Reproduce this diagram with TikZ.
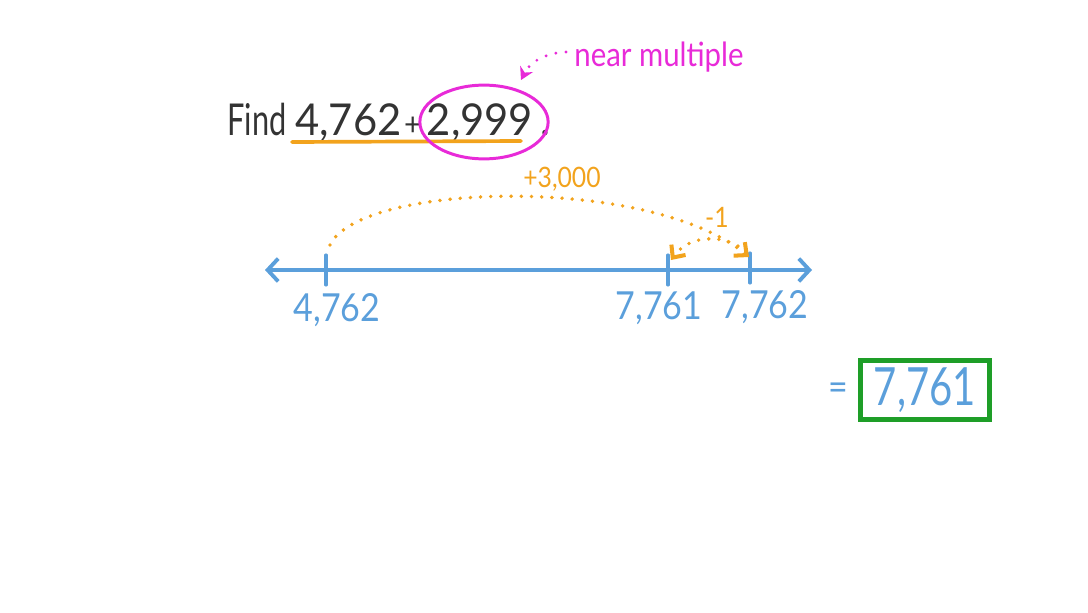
\documentclass[tikz,border=0pt]{standalone}
\usepackage{fontspec}
\setmainfont{Lato}[FakeStretch=0.88]
\newfontfamily\qfont{Lato}[FakeStretch=0.95]
\newfontfamily\ffont{Lato}[FakeStretch=0.7]
\newfontfamily\afont{Lato}[FakeStretch=0.76]
\usetikzlibrary{arrows.meta,shapes.geometric}
\definecolor{ink}{HTML}{333333}
\definecolor{orng}{HTML}{F2A31D}
\definecolor{mag}{HTML}{E82AD8}
\definecolor{blu}{HTML}{5B9FDB}
\definecolor{grn}{HTML}{1E9E28}
\tikzset{
  dotline/.style={line width=2.2pt, line cap=round, dash pattern=on 0pt off 5.8pt},
  numlab/.style={text=blu, font=\fontsize{22}{24}\selectfont, inner sep=0pt},
  tickmark/.style={draw=blu, line width=1.8pt, line cap=round},
  jumplab/.style={text=orng, font=\fontsize{16}{18}\selectfont, inner sep=0pt},
  otip/.style={-{Straight Barb[length=5.5pt,width=10pt,line width=2.3pt]}},
}
\begin{document}
\begin{tikzpicture}[x=0.02cm,y=-0.02cm]
\useasboundingbox (0,0) rectangle (1088,612);
% question
\node[anchor=base west, text=ink, font=\fontsize{25}{28}\qfont, inner sep=0pt] (q) at (227,135)
  {{\ffont Find}\hspace{5pt}4,762\hspace{1.5pt}{\fontsize{18}{20}\selectfont +}\hspace{3pt}2,999\hspace{4pt}.};
\coordinate (u1) at (292,142);
\coordinate (u2) at (521,141);
\draw[orng, line width=2.1pt, line cap=round] (u1) -- (u2);
\node[draw=mag, line width=1.7pt, ellipse, minimum width=73pt, minimum height=42pt, inner sep=0pt] (circ) at (484,122) {};
\node[text=mag, font=\fontsize{19}{21}\selectfont, inner sep=0pt] (nm) at (659,57) {near multiple};
\coordinate (na) at (566,52);
\coordinate (nb) at (521,80);
\draw[mag, dotline, line width=1.8pt, -{Stealth[length=7pt,width=8pt]}] (na) .. controls (545,53) and (530,62) .. (nb);
% number line
\coordinate (L) at (265,270);
\coordinate (R) at (812,270);
\draw[blu, line width=2.2pt, line cap=round,
  {Straight Barb[length=6pt,width=13pt,line width=2.2pt]}-{Straight Barb[length=6pt,width=13pt,line width=2.2pt]}] (L) -- (R);
\coordinate (t1) at (326,270);
\coordinate (t2) at (668,270);
\coordinate (t3) at (750,269);
\draw[tickmark] (t1) ++(0,-15) -- ++(0,30);
\draw[tickmark] (t2) ++(0,-15) -- ++(0,30);
\draw[tickmark] (t3) ++(0,-16) -- ++(0,30);
\node[numlab] (l1) at (337,310) {4,762};
\node[numlab] (l2) at (659,308) {7,761};
\node[numlab] (l3) at (765,307) {7,762};
% jumps
\coordinate (a1) at (330,245);
\coordinate (a2) at (749,257);
\draw[orng, dotline, otip] (a1) .. controls (360,182) and (650,175) .. (a2);
\node[jumplab] (j1) at (562,179) {+3,000};
\coordinate (b1) at (738,246);
\coordinate (b2) at (671,260);
\draw[orng, dotline, otip] (b1) .. controls (722,236) and (690,234) .. (b2);
\node[jumplab] (j2) at (717,217) {-1};
% answer
\node[text=blu, font=\fontsize{22}{24}\selectfont, inner sep=0pt] (eq) at (838,392) {=};
\node[draw=grn, line width=2.8pt, minimum width=73pt, minimum height=34pt, inner sep=0pt, text=blu, font=\fontsize{30}{32}\afont] (ans) at (925,390) {7,761};
\end{tikzpicture}
\end{document}
